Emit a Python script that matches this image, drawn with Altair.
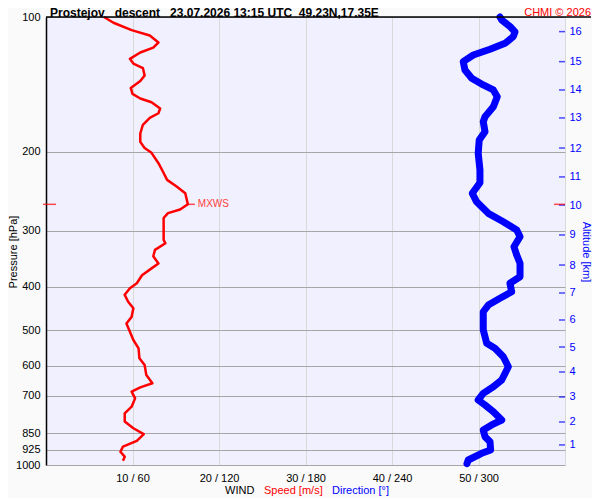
import altair as alt
import pandas as pd

# ---------------- data ----------------
title_text = "Prostejov\u00a0\u00a0\u00a0descent\u00a0\u00a0\u00a023.07.2026 13:15 UTC\u00a0\u00a049.23N,17.35E"
credit_text = "CHMI \u00a9 2026"
wind_words = ["WIND", "Speed [m/s]", "Direction [\u00b0]"]
left_title = "Pressure [hPa]"
right_title = "Altitude [km]"
mxws_label = "MXWS"

# wind speed profile (pressure hPa, speed m/s)
sp_p = [100, 103, 107, 110, 114, 117, 120, 124, 127, 130, 135, 139, 144, 148.5, 152, 155, 160, 164,
        168, 174, 182, 190, 196, 201, 212, 223, 231, 239, 247.5, 261.9, 269, 274, 281, 314.5, 320,
        331, 342, 355, 364, 377, 393, 403, 417, 432, 447, 467, 483, 504, 526, 549, 578, 598, 630,
        657, 671, 686, 710, 741, 767, 800, 828, 853, 883, 910, 934, 958, 978]
sp_v = [6.7, 7.8, 9.9, 12.0, 13.0, 12.4, 10.9, 9.7, 10.1, 11.2, 11.4, 10.9, 9.8, 10.0, 10.9, 12.2,
        13.2, 13.0, 12.0, 11.2, 10.9, 10.9, 11.4, 12.2, 13.0, 13.6, 14.0, 15.1, 16.1, 16.4, 15.5,
        14.1, 13.6, 13.6, 13.8, 12.6, 12.4, 13.0, 12.2, 11.1, 10.5, 9.7, 9.1, 9.5, 10.1, 9.9, 9.3,
        9.7, 10.1, 10.7, 10.8, 11.4, 11.6, 12.3, 10.9, 9.9, 10.3, 9.9, 9.1, 9.1, 10.1, 11.3, 10.5,
        8.9, 8.6, 9.1, 8.9]

# wind direction profile (pressure hPa, direction deg)
dir_p = [100, 101.5, 105, 108, 110.6, 114.5, 118, 121.6, 125.8, 131.3, 137, 141.8, 145.5, 150.6,
         158.6, 167, 171.3, 180.3, 188.2, 201.5, 219.5, 234.4, 247.5, 258.5, 274.3, 286.4, 298.9,
         309.4, 325.7, 339.9, 354.6, 380, 393, 410.5, 424.5, 439.5, 454.9, 499.5, 535, 549, 573.3,
         603.5, 646, 668.8, 691.8, 715.9, 734.7, 760.4, 793.5, 814, 835.5, 864.8, 887.3, 925.8,
         941.7, 974.6, 993]
dir_v = [314.9, 316.1, 321.8, 325.3, 324.1, 318.4, 308.0, 296.4, 289.4, 290.6, 295.3, 303.3, 310.3,
         313.0, 310.3, 304.5, 303.3, 304.5, 300.5, 299.8, 301.0, 301.0, 295.7, 298.7, 306.8, 317.2,
         326.5, 328.8, 324.6, 326.5, 328.8, 328.8, 321.8, 323.0, 314.9, 306.8, 303.3, 303.3, 305.7,
         311.4, 317.2, 320.7, 316.1, 310.3, 303.3, 299.8, 304.5, 310.3, 316.1, 309.1, 303.3, 304.5,
         308.0, 308.4, 302.2, 292.9, 292.0]

# max wind
mx_p = [261.9]
mx_v = [16.4]

# pressure levels (left axis) and altitude ticks (right axis)
p_levels = [100, 200, 300, 400, 500, 600, 700, 850, 925, 1000]
alt_km = list(range(1, 17))
alt_p = [902, 801.7, 705, 620, 545.3, 474.6, 413.1, 357.8, 306.6, 262.9, 227.5, 196.1, 168,
         145.5, 125.8, 107.8]
speed_ticks = [10, 20, 30, 40, 50, 60]

# ---------------- tables ----------------
df_sp = pd.DataFrame({"i": range(len(sp_p)), "p": sp_p, "v": sp_v})
df_dir = pd.DataFrame({"i": range(len(dir_p)), "p": dir_p, "d": dir_v})
df_mx = pd.DataFrame({"p": mx_p, "v": mx_v, "t": [mxws_label]})
df_alt = pd.DataFrame({"p": alt_p, "km": alt_km})
one = lambda s: pd.DataFrame({"t": [s]})

W, H = 519, 448
RED, BLUE = "#ff0000", "#0000ff"

ys = alt.Scale(type="log", domain=[100, 1000], reverse=True, nice=False)
xs = alt.Scale(domain=[0, 60], nice=False)
xd = alt.Scale(domain=[0, 360], nice=False)

x_axis = alt.Axis(values=speed_ticks, title=None, grid=True, gridColor="#d9d9d9", domain=False,
                  ticks=False, tickSize=0, labelPadding=7, labelFontSize=11, labelColor="black",
                  labelFlush=False, labelOverlap=False,
                  labelExpr="datum.value < 60 ? datum.value + ' / ' + datum.value * 6 : ''")
y_axis = alt.Axis(values=p_levels, title=None, grid=True, gridColor="#a6a6a6", domain=True,
                  domainColor="black", domainWidth=1.5, ticks=False, tickSize=0, labelPadding=6,
                  labelFontSize=11, labelColor="black", labelOverlap=False, format="d")
alt_expr = "indexof([" + ",".join(str(v) for v in alt_p) + "], datum.value) + 1"
r_axis = alt.Axis(orient="right", values=alt_p, title=None, grid=False, domain=False, ticks=False,
                  tickSize=0, labelPadding=4, labelFontSize=11, labelColor=BLUE,
                  labelOverlap=False, labelExpr=alt_expr)

speed = alt.Chart(df_sp).mark_line(color=RED, strokeWidth=2.5, strokeJoin="round").encode(
    x=alt.X("v:Q", scale=xs, axis=x_axis),
    y=alt.Y("p:Q", scale=ys, axis=y_axis),
    order="i:Q",
)
direction = alt.Chart(df_dir).mark_line(color=BLUE, strokeWidth=7, strokeCap="round",
                                        strokeJoin="round").encode(
    x=alt.X("d:Q", scale=xd, axis=None),
    y=alt.Y("p:Q", scale=ys, axis=None),
    order="i:Q",
)
alt_ticks = alt.Chart(df_alt).mark_tick(color=BLUE, orient="horizontal", size=6, thickness=1.5,
                                        xOffset=-3).encode(
    x=alt.X(datum=60, scale=xs, axis=None),
    y=alt.Y("p:Q", scale=ys, axis=r_axis),
)
mx_left = alt.Chart(df_mx).mark_tick(color=RED, orient="horizontal", size=13, thickness=1.5,
                                     xOffset=3.5).encode(
    x=alt.X(datum=0, scale=xs, axis=None),
    y=alt.Y("p:Q", scale=ys, axis=None),
)
mx_right = alt.Chart(df_mx).mark_tick(color=RED, orient="horizontal", size=11, thickness=1.5,
                                      xOffset=-5.5).encode(
    x=alt.X(datum=60, scale=xs, axis=None),
    y=alt.Y("p:Q", scale=ys, axis=None),
)
mx_tick = alt.Chart(df_mx).mark_tick(color=RED, orient="horizontal", size=7, thickness=1.5,
                                     xOffset=3.5).encode(
    x=alt.X("v:Q", scale=xs, axis=None),
    y=alt.Y("p:Q", scale=ys, axis=None),
)
mx_text = alt.Chart(df_mx).mark_text(color="#ff4040", fontSize=10, align="left",
                                     baseline="middle", dx=10).encode(
    x=alt.X("v:Q", scale=xs, axis=None),
    y=alt.Y("p:Q", scale=ys, axis=None),
    text="t:N",
)

top_line = alt.Chart(one("")).mark_rule(color="black", strokeWidth=1.5).encode(
    x=alt.value(0), x2=alt.value(545), y=alt.value(0))

title = alt.Chart(one(title_text)).mark_text(fontSize=12, fontWeight="bold", align="left",
                                             baseline="alphabetic", color="black").encode(
    x=alt.value(4), y=alt.value(-0.5), text="t:N")
credit = alt.Chart(one(credit_text)).mark_text(fontSize=11, align="right", baseline="alphabetic",
                                               color=RED).encode(
    x=alt.value(545), y=alt.value(-0.8), text="t:N")
ltitle = alt.Chart(one(left_title)).mark_text(fontSize=11, angle=270, align="center",
                                              baseline="alphabetic", color="black").encode(
    x=alt.value(-29), y=alt.value(235), text="t:N")
rtitle = alt.Chart(one(right_title)).mark_text(fontSize=11, angle=90, align="center",
                                               baseline="alphabetic", color=BLUE).encode(
    x=alt.value(536.5), y=alt.value(235), text="t:N")
wy = 473.7
w1 = alt.Chart(one(wind_words[0])).mark_text(fontSize=11, align="left", baseline="middle",
                                             color="black").encode(
    x=alt.value(179), y=alt.value(wy), text="t:N")
w2 = alt.Chart(one(wind_words[1])).mark_text(fontSize=11, align="left", baseline="middle",
                                             color=RED).encode(
    x=alt.value(218), y=alt.value(wy), text="t:N")
w3 = alt.Chart(one(wind_words[2])).mark_text(fontSize=11, align="left", baseline="middle",
                                             color=BLUE).encode(
    x=alt.value(286), y=alt.value(wy), text="t:N")

chart = alt.layer(
    speed, direction, alt_ticks, mx_left, mx_right, mx_tick, mx_text,
    top_line, title, credit, ltitle, rtitle, w1, w2, w3,
).resolve_scale(x="independent", y="independent").properties(
    width=W, height=H,
    autosize=alt.AutoSizeParams(type="none"),
    padding={"left": 38, "top": 9, "right": 27, "bottom": 33},
).configure(
    font="Liberation Sans", background="#fafafa",
).configure_view(
    fill="#f0f0ff", strokeWidth=0,
)

chart.save("out.html", embed_options={"renderer": "svg", "actions": False})
